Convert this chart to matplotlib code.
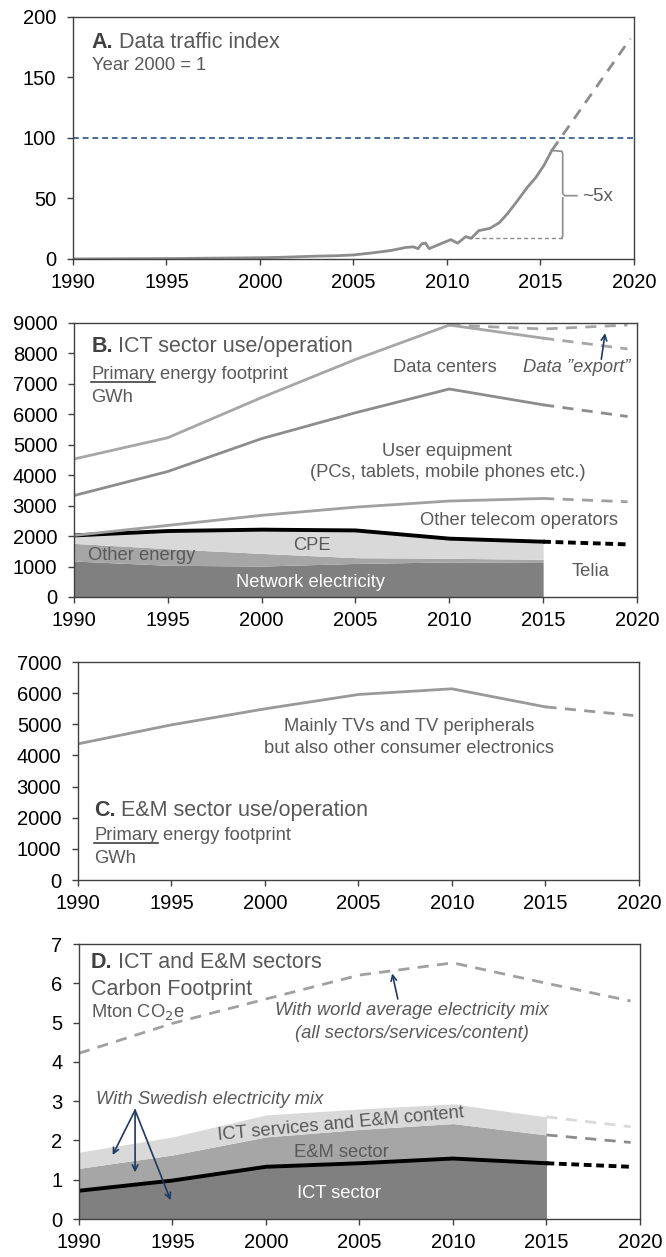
import matplotlib.pyplot as plt
import numpy as np

plt.rcParams['font.family'] = ['Liberation Sans', 'DejaVu Sans']

# ---------------- data ----------------
years = [1990, 1995, 2000, 2005, 2010, 2015]
proj_years = [2015, 2019.5]

# A. data traffic index (year 2000 = 1)
traffic_years = [1990, 1995, 2000, 2001, 2002, 2003, 2004, 2005, 2006, 2007,
                 2007.8, 2008.2, 2008.45, 2008.65, 2008.85, 2009.05, 2009.5,
                 2009.95, 2010.2, 2010.57, 2011.0, 2011.3, 2011.7, 2012.3,
                 2012.8, 2013.25, 2013.8, 2014.3, 2014.76, 2015.2, 2015.6]
traffic_index = [0, 0.3, 1, 1.3, 1.8, 2.3, 2.6, 3.3, 5, 7,
                 9.5, 10, 8.5, 12.5, 13, 8.5, 11.5,
                 14.3, 16, 13, 18.4, 17.1, 23.4, 25.3,
                 30, 37.7, 48.8, 59.2, 67.5, 77.7, 89.5]
traffic_proj_years = [2015.6, 2019.8]
traffic_proj = [89.5, 182]
ref_level = 100
bracket_low, bracket_high = 17, 89

# B. ICT sector, primary energy GWh
network_el = [1180, 1040, 1015, 1100, 1150, 1130]
other_energy = [580, 545, 415, 190, 120, 105]
cpe = [260, 580, 780, 895, 645, 580]
telia_proj = 1727
other_telecom = [2020, 2350, 2680, 2950, 3150, 3235]
other_telecom_proj = 3126
user_equipment = [3330, 4120, 5200, 6050, 6830, 6310]
user_equipment_proj = 5927
data_centers = [4530, 5230, 6550, 7800, 8930, 8500]
data_centers_proj = 8146
export_years = [2010, 2015, 2019.5]
export_vals = [8930, 8800, 8930]

# C. E&M sector
em_years_proj = [2015, 2019.7]
tv_energy = [4373, 4984, 5498, 5959, 6141, 5560]
tv_proj = 5284

# D. carbon footprint Mton CO2e
ict_co2 = [0.72, 0.98, 1.33, 1.42, 1.54, 1.42]
em_co2 = [0.57, 0.65, 0.76, 0.86, 0.89, 0.72]
content_co2 = [0.41, 0.46, 0.56, 0.52, 0.50, 0.46]
ict_proj, em_top_proj, content_top_proj = 1.33, 1.95, 2.35
world_years = [1990, 1995, 2000, 2005, 2010, 2015, 2019.5]
world_co2 = [4.22, 4.98, 5.60, 6.21, 6.52, 6.00, 5.55]

# ---------------- style ----------------
TXT = '#595959'
BOLD = '#404040'
ARROW = '#1f3864'
DARK, MID, LIGHT = '#808080', '#a6a6a6', '#d9d9d9'
HEAD, SUB, LBL = 15.5, 13.2, 13.2

fig = plt.figure(figsize=(6.66, 12.57), dpi=100)
axA = fig.add_axes([0.1096, 0.7940, 0.8423, 0.1925])
axB = fig.add_axes([0.1111, 0.5251, 0.8453, 0.2180])
axC = fig.add_axes([0.1171, 0.2999, 0.8423, 0.1734])
axD = fig.add_axes([0.1186, 0.0302, 0.8423, 0.2188])
renderer = fig.canvas.get_renderer()


def style(ax, ymax, ystep):
    ax.set_xlim(1990, 2020)
    ax.set_ylim(0, ymax)
    ax.set_xticks(range(1990, 2021, 5))
    ax.set_yticks(np.arange(0, ymax + ystep / 2, ystep))
    ax.tick_params(direction='out', length=4, width=1, labelsize=14.5,
                   color='#404040')
    ax.tick_params(axis='x', pad=6)
    ax.tick_params(axis='y', pad=8)
    for s in ax.spines.values():
        s.set_color('#404040')
        s.set_linewidth(1)


def right_of(ax, t):
    bb = t.get_window_extent(renderer=renderer)
    return ax.transAxes.inverted().transform([(bb.x0, bb.y0), (bb.x1, bb.y0)])


def title(ax, x, y, bold, rest, size=HEAD):
    t = ax.text(x, y, bold, transform=ax.transAxes, fontsize=size,
                fontweight='bold', color=BOLD, va='center')
    (_, _), (x1, _) = right_of(ax, t)
    ax.annotate(rest, xy=(x1, y), xycoords='axes fraction',
                xytext=(size * 0.25, 0), textcoords='offset points',
                fontsize=size, color=TXT, va='center')


def primary(ax, x, y, size=SUB):
    t = ax.text(x, y, 'Primary', transform=ax.transAxes, fontsize=size,
                color=TXT, va='center')
    (x0, y0), (x1, _) = right_of(ax, t)
    ax.annotate('energy footprint', xy=(x1, y), xycoords='axes fraction',
                xytext=(size * 0.28, 0), textcoords='offset points',
                fontsize=size, color=TXT, va='center')
    ax.plot([x0, x1], [y0 + 0.004, y0 + 0.004], color=BOLD, lw=1.2,
            transform=ax.transAxes, clip_on=False)


# ---------------- A ----------------
style(axA, 200, 50)
axA.axhline(ref_level, color='#4a6a9a', lw=1.4, ls=(0, (3, 2)))
axA.plot(traffic_years, traffic_index, color='#8c8c8c', lw=2)
axA.plot(traffic_proj_years, traffic_proj, color='#8c8c8c', lw=2, ls=(0, (4, 3)))
axA.plot([2011.1, 2016.19], [bracket_low, bracket_low], color='#8c8c8c',
         lw=1, ls=(0, (3, 2)))
bx = 2016.19
axA.plot([2015.7, bx - 0.05, bx, bx, bx + 0.1, 2016.95],
         [bracket_high + 0.5, bracket_high, bracket_high - 2, 54, 52.3, 52.3],
         color='#8c8c8c', lw=1.2)
axA.plot([bx, bx, bx - 0.05], [50.6, bracket_low + 2, bracket_low],
         color='#8c8c8c', lw=1.2)
axA.text(2017.25, 51.5, '~5x', fontsize=13.5, color=TXT, va='center')
title(axA, 0.033, 0.893, 'A.', 'Data traffic index')
axA.text(0.033, 0.798, 'Year 2000 = 1', transform=axA.transAxes,
         fontsize=SUB, color=TXT, va='center')

# ---------------- B ----------------
style(axB, 9000, 1000)
b1 = np.array(network_el)
b2 = b1 + np.array(other_energy)
b3 = b2 + np.array(cpe)
axB.fill_between(years, 0, b1, color=DARK, lw=0)
axB.fill_between(years, b1, b2, color=MID, lw=0)
axB.fill_between(years, b2, b3, color=LIGHT, lw=0)
axB.plot(years, b3, color='black', lw=2.8)
axB.plot(proj_years, [b3[-1], telia_proj], color='black', lw=2.8, ls=(0, (2, 1.2)))
for vals, proj, col in [(other_telecom, other_telecom_proj, '#a0a0a0'),
                        (user_equipment, user_equipment_proj, '#8c8c8c'),
                        (data_centers, data_centers_proj, '#a6a6a6')]:
    axB.plot(years, vals, color=col, lw=2)
    axB.plot(proj_years, [vals[-1], proj], color=col, lw=2, ls=(0, (4, 3)))
axB.plot(export_years, export_vals, color='#a6a6a6', lw=2, ls=(0, (4, 3)))
axB.annotate('', xy=(2018.3, 8662), xytext=(2018.1, 7808),
             arrowprops=dict(arrowstyle='->', color=ARROW, lw=1.2,
                             shrinkA=0, shrinkB=0))
kw = dict(fontsize=LBL, color=TXT, ha='center', va='center')
axB.text(2009.75, 7520, 'Data centers', **kw)
axB.text(2016.8, 7520, 'Data \u201dexport\u201d', style='italic', **kw)
axB.text(2009.9, 4775, 'User equipment', **kw)
axB.text(2009.9, 4083, '(PCs, tablets, mobile phones etc.)', **kw)
axB.text(2013.7, 2503, 'Other telecom operators', **kw)
axB.text(2002.7, 1680, 'CPE', **kw)
axB.text(1993.6, 1372, 'Other energy', **kw)
axB.text(2002.6, 461, 'Network electricity', **{**kw, 'color': 'white'})
axB.text(2017.5, 823, 'Telia', **kw)
title(axB, 0.031, 0.913, 'B.', 'ICT sector use/operation')
primary(axB, 0.031, 0.812)
axB.text(0.031, 0.728, 'GWh', transform=axB.transAxes, fontsize=SUB,
         color=TXT, va='center')

# ---------------- C ----------------
style(axC, 7000, 1000)
axC.plot(years, tv_energy, color='#999999', lw=2)
axC.plot(em_years_proj, [tv_energy[-1], tv_proj], color='#999999', lw=2,
         ls=(0, (4, 3)))
axC.text(2007.7, 4930, 'Mainly TVs and TV peripherals', **kw)
axC.text(2007.7, 4234, 'but also other consumer electronics', **kw)
title(axC, 0.029, 0.317, 'C.', 'E&M sector use/operation')
primary(axC, 0.029, 0.203)
axC.text(0.029, 0.100, 'GWh', transform=axC.transAxes, fontsize=SUB,
         color=TXT, va='center')

# ---------------- D ----------------
style(axD, 7, 1)
d1 = np.array(ict_co2)
d2 = d1 + np.array(em_co2)
d3 = d2 + np.array(content_co2)
axD.fill_between(years, 0, d1, color=DARK, lw=0)
axD.fill_between(years, d1, d2, color=MID, lw=0)
axD.fill_between(years, d2, d3, color=LIGHT, lw=0)
axD.plot(years, d1, color='black', lw=2.8)
axD.plot(proj_years, [d1[-1], ict_proj], color='black', lw=2.8, ls=(0, (2, 1.2)))
axD.plot(proj_years, [d2[-1], em_top_proj], color='#8c8c8c', lw=2, ls=(0, (4, 3)))
axD.plot(proj_years, [d3[-1], content_top_proj], color=LIGHT, lw=2, ls=(0, (4, 3)))
axD.plot(world_years, world_co2, color='#a0a0a0', lw=2, ls=(0, (4, 3)))
arr = dict(arrowstyle='->', color=ARROW, lw=1.2, shrinkA=0, shrinkB=0)
axD.annotate('', xy=(2006.75, 6.25), xytext=(2007.05, 5.6), arrowprops=arr)
for head in [(1991.8, 1.63), (1993.0, 1.19), (1994.9, 0.48)]:
    axD.annotate('', xy=head, xytext=(1993.0, 2.77), arrowprops=arr)
ikw = dict(kw, style='italic')
axD.text(2007.8, 5.30, 'With world average electricity mix', **ikw)
axD.text(2007.8, 4.72, '(all sectors/services/content)', **ikw)
axD.text(1997.0, 3.03, 'With Swedish electricity mix', **ikw)
axD.text(2004.0, 2.42, 'ICT services and E&M content', rotation=5.3, **kw)
axD.text(2004.05, 1.70, 'E&M sector', **kw)
axD.text(2003.9, 0.65, 'ICT sector', **{**kw, 'color': 'white'})
title(axD, 0.021, 0.932, 'D.', 'ICT and E&M sectors')
axD.text(0.021, 0.836, 'Carbon Footprint', transform=axD.transAxes,
         fontsize=HEAD, color=TXT, va='center')
axD.text(0.021, 0.752, 'Mton CO$_2$e', transform=axD.transAxes,
         fontsize=SUB, color=TXT, va='center')

fig.savefig('out.png', dpi=100)
